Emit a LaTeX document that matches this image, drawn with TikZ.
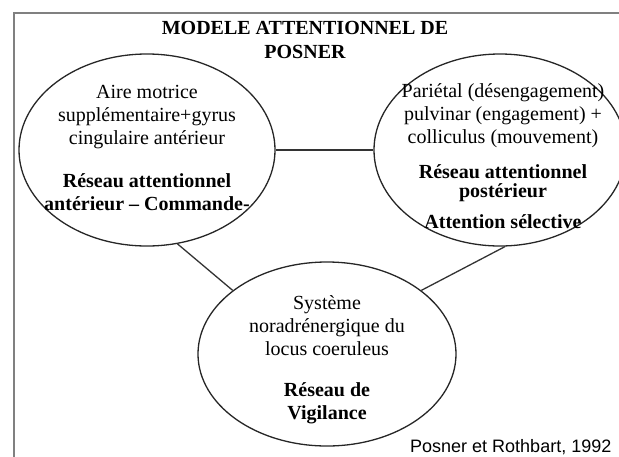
\documentclass[tikz,border=0pt]{standalone}
\usepackage{fontspec}
\setmainfont{Liberation Serif}
\newfontfamily\citefont{Liberation Sans}
\usetikzlibrary{shapes.geometric, positioning}
\tikzset{oval/.style={ % Sets the properties for each ellipse
ellipse, draw=black!85, line width=1.3pt,
inner sep=0pt},
txt/.style={ % Text inside the ellipses
align=center, inner sep=0pt,
font=\fontsize{20}{23}\selectfont},
link/.style={ % Plain connectors, no arrow heads
draw=black!80, line width=1.3pt},
frame/.style={draw=black!50, line width=2.5pt}}

\begin{document}
\begin{tikzpicture}[x=1pt, y=-1pt]
    
    \useasboundingbox (0,0) rectangle (619,456);
    \draw[frame] (14,470) -- (14,13) -- (640,13);
    
    \node[txt, font=\fontsize{20}{24}\selectfont\bfseries] (title) at (305,40) {MODELE ATTENTIONNEL DE\\POSNER};
    
    \node[oval, minimum width=256pt, minimum height=192pt] (ant) at (147,150) {};
    \node[oval, minimum width=252pt, minimum height=192pt] (post) at (500,150) {};
    \node[oval, minimum width=258pt, minimum height=184pt] (vig) at (327,354) {};
    
    \node[txt] (antText) at (147,148) {Aire motrice\\supplémentaire+gyrus\\cingulaire antérieur\\[20pt]
        \textbf{Réseau attentionnel}\\\textbf{antérieur – Commande-}};
    \node[txt] (postText) at (503,156) {Pariétal (désengagement)\\pulvinar (engagement) +\\colliculus (mouvement)\\[12pt]
        \textbf{Réseau attentionnel}\\[-4pt]\textbf{postérieur}\\[8pt]\textbf{Attention sélective}};
    \node[txt] (vigText) at (327,360) {Système\\noradrénergique du\\locus coeruleus\\[18pt]
        \textbf{Réseau de}\\\textbf{Vigilance}};
    
    \node[anchor=base west, inner sep=0pt, font=\citefont\fontsize{18}{20}\selectfont] (cite) at (410,452) {Posner et Rothbart, 1992};
    
    \draw[link] (ant.east) -- (post.west);
    \draw[link] (ant.-72) -- (vig.146);
    \draw[link] (post.-87) -- (vig.34);
    
\end{tikzpicture}
\end{document}
